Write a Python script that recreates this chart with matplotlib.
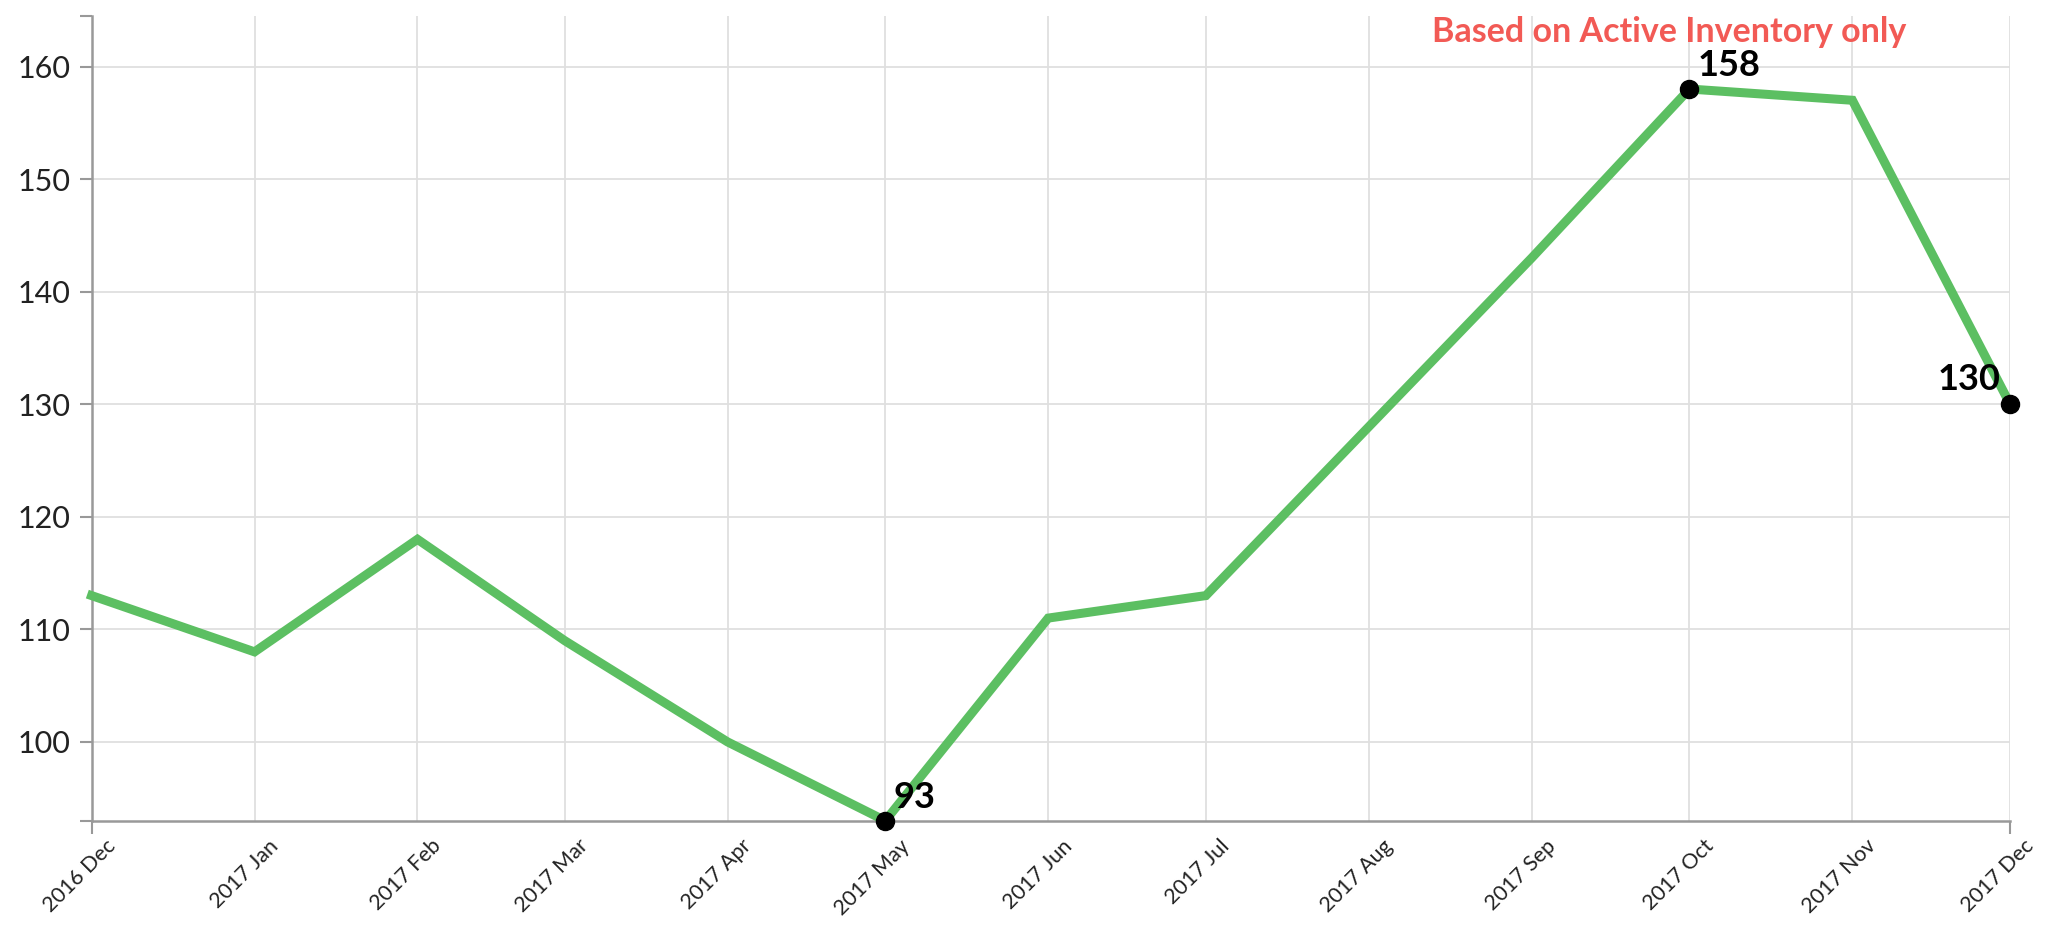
import matplotlib
matplotlib.use("Agg")
import matplotlib.pyplot as plt
import matplotlib.dates as mdates
from matplotlib.transforms import ScaledTranslation, blended_transform_factory
from datetime import datetime

plt.rcParams['font.family'] = ['Lato', 'DejaVu Sans']

months = ["2016-12", "2017-01", "2017-02", "2017-03", "2017-04", "2017-05", "2017-06",
          "2017-07", "2017-08", "2017-09", "2017-10", "2017-11", "2017-12"]
tick_labels = ["2016 Dec", "2017 Jan", "2017 Feb", "2017 Mar", "2017 Apr", "2017 May", "2017 Jun",
               "2017 Jul", "2017 Aug", "2017 Sep", "2017 Oct", "2017 Nov", "2017 Dec"]
values = [113, 108, 118, 109, 100, 93, 111, 113, 128, 143, 158, 157, 130]
highlight_idx = [5, 10, 12]
title_text = "Based on Active Inventory only"

dates = [datetime.strptime(m, "%Y-%m") for m in months]
xnum = mdates.date2num(dates)

fig = plt.figure(figsize=(20.49, 9.32), dpi=100)
ax = fig.add_axes([0.0447, 0.1194, 0.981 - 0.0447, 0.983 - 0.1194])

ax.set_xlim(xnum[0], xnum[-1])
ax.set_ylim(93, 164.5)
ax.xaxis.remove_overlapping_locs = False
ax.yaxis.remove_overlapping_locs = False

ax.set_xticks(xnum)
ax.set_xticklabels([""] * len(xnum))
ax.tick_params(axis='x', length=0, pad=0)
lbl_tr = blended_transform_factory(ax.transData, ax.transAxes) + \
    ScaledTranslation(15 / 72, -16 / 72, fig.dpi_scale_trans)
for xv, lab in zip(xnum, tick_labels):
    ax.text(xv, 0, lab, transform=lbl_tr, rotation=45, rotation_mode='anchor',
            ha='right', va='center', fontsize=15.5, color='#222222', clip_on=False)

ax.set_yticks([100, 110, 120, 130, 140, 150, 160])
ax.tick_params(axis='y', labelsize=22, labelcolor='#222222', length=9, width=1.5, color='#999999', pad=6)
ax.set_xticks([xnum[0], xnum[-1]], minor=True)
ax.set_yticks([93, 164.5], minor=True)
ax.tick_params(axis='x', which='minor', length=9, width=1.5, color='#999999')
ax.tick_params(axis='y', which='minor', length=9, width=1.5, color='#999999')

ax.grid(True, which='major', color='#dfdfdf', linewidth=1.3)
ax.set_axisbelow(True)
for s in ['top', 'right']:
    ax.spines[s].set_visible(False)
for s in ['left', 'bottom']:
    ax.spines[s].set_color('#999999')
    ax.spines[s].set_linewidth(1.8)

ax.plot(xnum, values, color='#5cbf62', linewidth=6.5, solid_joinstyle='miter', clip_on=False, zorder=3)

hx = [xnum[i] for i in highlight_idx]
hy = [values[i] for i in highlight_idx]
ax.plot(hx, hy, 'o', color='black', markersize=13, clip_on=False, zorder=4)

for i in highlight_idx:
    if i == len(values) - 1:
        ax.annotate(str(values[i]), (xnum[i], values[i]), xytext=(-7, 6), textcoords='offset points',
                    ha='right', va='bottom', fontsize=26, fontweight='bold', color='black', zorder=5)
    else:
        ax.annotate(str(values[i]), (xnum[i], values[i]), xytext=(6, 5), textcoords='offset points',
                    ha='left', va='bottom', fontsize=26, fontweight='bold', color='black', zorder=5)

fig.text(1669 / 2049, 1 - 32 / 932, title_text, ha='center', va='center', fontsize=24.5,
         fontweight='bold', color='#f25a55')

fig.savefig("out.png", dpi=100)
